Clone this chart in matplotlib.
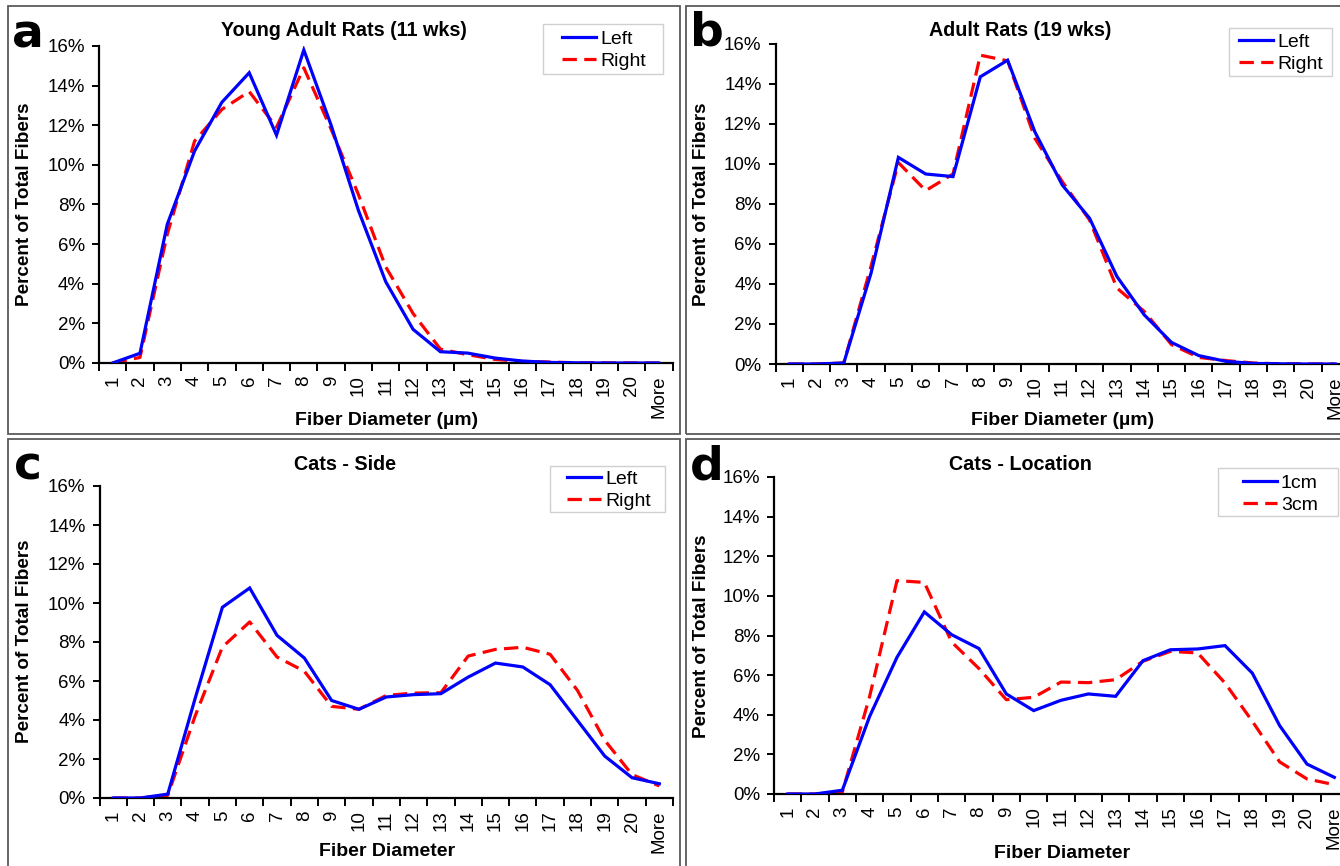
import numpy as np
import matplotlib
matplotlib.use("Agg")
import matplotlib.pyplot as plt
from matplotlib.patches import Rectangle
from matplotlib.ticker import FixedLocator, FuncFormatter

plt.rcParams['font.family'] = ['Liberation Sans', 'DejaVu Sans']

categories = [str(i) for i in range(1, 21)] + ["More"]

# Panel a: Young Adult Rats (11 wks)
a_left = [0.0, 0.49, 7.0, 10.7, 13.16, 14.65, 11.5, 15.8, 12.0, 7.7, 4.1, 1.7, 0.57, 0.5, 0.25, 0.1, 0.03, 0.01, 0.0, 0.0, 0.0]
a_right = [0.0, 0.28, 6.5, 11.2, 12.8, 13.7, 11.9, 14.9, 11.8, 8.5, 4.85, 2.5, 0.7, 0.42, 0.18, 0.08, 0.05, 0.01, 0.01, 0.0, 0.0]

# Panel b: Adult Rats (19 wks)
b_left = [0.0, 0.0, 0.05, 4.55, 10.33, 9.5, 9.37, 14.36, 15.19, 11.6, 8.95, 7.29, 4.38, 2.46, 1.08, 0.42, 0.13, 0.03, 0.01, 0.0, 0.0]
b_right = [0.0, 0.0, 0.05, 4.9, 10.07, 8.67, 9.5, 15.44, 15.16, 11.28, 9.12, 7.2, 3.8, 2.63, 0.97, 0.33, 0.17, 0.05, 0.01, 0.0, 0.0]

# Panel c: Cats - Side
c_left = [0.0, 0.0, 0.2, 5.1, 9.78, 10.77, 8.34, 7.18, 5.0, 4.55, 5.18, 5.3, 5.35, 6.2, 6.92, 6.72, 5.81, 3.98, 2.15, 1.04, 0.73]
c_right = [0.0, 0.0, 0.14, 4.2, 7.74, 9.03, 7.23, 6.5, 4.7, 4.55, 5.26, 5.38, 5.4, 7.28, 7.62, 7.73, 7.37, 5.52, 2.96, 1.2, 0.62]

# Panel d: Cats - Location
d_1cm = [0.0, 0.0, 0.19, 3.92, 6.9, 9.19, 8.04, 7.34, 5.05, 4.21, 4.73, 5.05, 4.93, 6.73, 7.28, 7.32, 7.49, 6.1, 3.45, 1.51, 0.84]
d_3cm = [0.0, 0.0, 0.1, 4.93, 10.77, 10.68, 7.67, 6.33, 4.76, 4.88, 5.65, 5.62, 5.77, 6.7, 7.2, 7.12, 5.6, 3.67, 1.62, 0.76, 0.47]

W, H = 1340, 866
fig = plt.figure(figsize=(W / 100, H / 100), dpi=100)

def fx(x):
    return x / W

def fy(y):
    return 1 - y / H

def frame(l, t, r, b, color, lw, z=0):
    fig.patches.append(Rectangle((fx(l), fy(b)), fx(r - l), (b - t) / H, transform=fig.transFigure,
                                 fill=False, edgecolor=color, linewidth=lw, zorder=z))

# panel borders
for (l, t, r, b) in [(8, 6, 680, 434), (686, 6, 1360, 434), (8, 439, 680, 900), (686, 439, 1360, 900)]:
    frame(l, t, r, b, '#5a5a5a', 1.3)

panels = [
    dict(box=(99, 46, 672.5, 363), s1=a_left, s2=a_right, labels=("Left", "Right"),
         title="Young Adult Rats (11 wks)", tpos=(344, 30), xlabel="Fiber Diameter (µm)", xlpos=(387, 420),
         ylpos=(25, 204), letter="a", lpos=(12, 47),
         legbox=(543, 24, 663, 74), legpos=(562, 50)),
    dict(box=(775.5, 44, 1349, 364), s1=b_left, s2=b_right, labels=("Left", "Right"),
         title="Adult Rats (19 wks)", tpos=(1020, 30), xlabel="Fiber Diameter (µm)", xlpos=(1063, 420),
         ylpos=(702, 204), letter="b", lpos=(690, 45),
         legbox=(1229, 28, 1332, 76), legpos=(1239, 53)),
    dict(box=(99.5, 486, 673, 798), s1=c_left, s2=c_right, labels=("Left", "Right"),
         title="Cats - Side", tpos=(345, 464), xlabel="Fiber Diameter", xlpos=(387, 852),
         ylpos=(25, 641), letter="c", lpos=(14, 479),
         legbox=(550, 466, 665, 512), legpos=(567, 490)),
    dict(box=(774, 477, 1348, 794), s1=d_1cm, s2=d_3cm, labels=("1cm", "3cm"),
         title="Cats - Location", tpos=(1020, 464), xlabel="Fiber Diameter", xlpos=(1062, 853),
         ylpos=(701, 636), letter="d", lpos=(690, 479),
         legbox=(1218, 468, 1338, 516), legpos=(1243, 494)),
]

x = np.arange(len(categories))
for p in panels:
    l, t, r, b = p['box']
    ax = fig.add_axes([fx(l), fy(b), (r - l) / W, (b - t) / H])
    ax.plot(x, p['s1'], color='#0000ff', lw=2.3, solid_joinstyle='miter', label=p['labels'][0], zorder=3)
    ax.plot(x, p['s2'], color='#ff0000', lw=2.3, dashes=(4.5, 2.3), label=p['labels'][1], zorder=2)
    ax.set_xlim(-0.5, len(categories) - 0.5)
    ax.set_ylim(0, 16)
    for s in ['top', 'right']:
        ax.spines[s].set_visible(False)
    for s in ['left', 'bottom']:
        ax.spines[s].set_linewidth(1.6)
        ax.spines[s].set_color('black')
    ax.set_yticks(np.arange(0, 17, 2))
    ax.yaxis.set_major_formatter(FuncFormatter(lambda v, pos: f"{v:.0f}%"))
    ax.tick_params(axis='y', direction='out', length=5, width=1.4, pad=5, labelsize=13.5)
    ax.xaxis.set_major_locator(FixedLocator(np.arange(-0.5, len(categories), 1)))
    ax.xaxis.set_major_formatter(FuncFormatter(lambda v, pos: ""))
    ax.xaxis.set_minor_locator(FixedLocator(x))
    ax.set_xticklabels(categories, minor=True, rotation=90, fontsize=13.5)
    ax.tick_params(axis='x', which='major', direction='out', length=6, width=1.4)
    ax.tick_params(axis='x', which='minor', length=0, pad=9)
    ax.patch.set_alpha(0)

    fig.text(fx(p['tpos'][0]), fy(p['tpos'][1]), p['title'], ha='center', va='center',
             fontsize=14.2, fontweight='bold')
    fig.text(fx(p['xlpos'][0]), fy(p['xlpos'][1]), p['xlabel'], ha='center', va='center',
             fontsize=14, fontweight='bold')
    fig.text(fx(p['ylpos'][0]), fy(p['ylpos'][1]), "Percent of Total Fibers", ha='center', va='center',
             rotation=90, fontsize=13.6, fontweight='bold')
    fig.text(fx(p['lpos'][0]), fy(p['lpos'][1]), p['letter'], ha='left', va='baseline',
             fontsize=34, fontweight='bold', family='DejaVu Sans')

    bl, bt, br, bb = p['legbox']
    fig.patches.append(Rectangle((fx(bl), fy(bb)), fx(br - bl), (bb - bt) / H, transform=fig.transFigure,
                                 facecolor='white', edgecolor='#d0d0d0', linewidth=1.0, zorder=5))
    leg = fig.legend(handles=ax.get_lines(), labels=list(p['labels']), loc='center left',
                     bbox_to_anchor=(fx(p['legpos'][0]), fy(p['legpos'][1])), bbox_transform=fig.transFigure,
                     fontsize=14, frameon=False, handlelength=1.75, handletextpad=0.2,
                     borderpad=0, labelspacing=0.25, borderaxespad=0)
    leg.set_zorder(6)

fig.savefig("out.png", dpi=100)
